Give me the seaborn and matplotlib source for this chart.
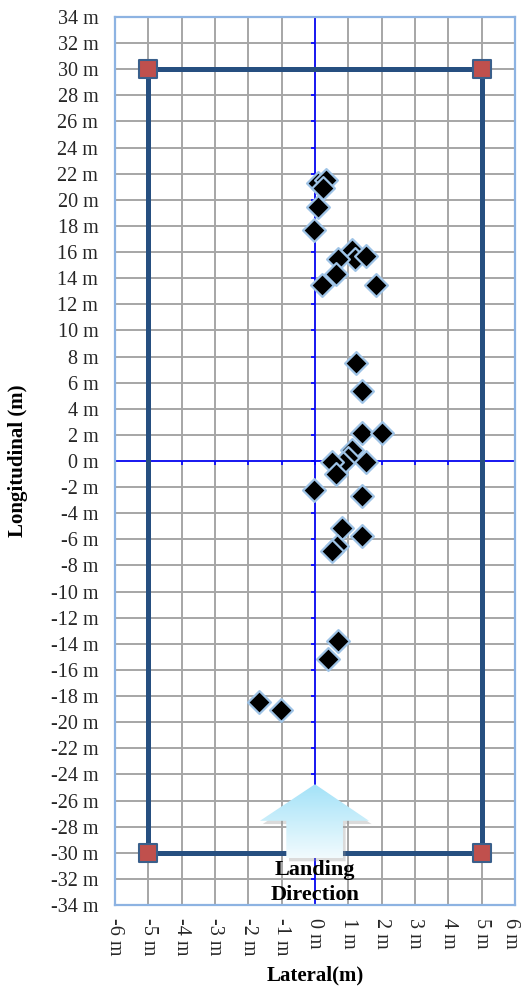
import numpy as np
import pandas as pd
import matplotlib
matplotlib.use("Agg")
import matplotlib.pyplot as plt
import matplotlib.transforms as mtransforms
from matplotlib.patches import Polygon
from matplotlib.colors import LinearSegmentedColormap
import seaborn as sns

# ---- data ----
lateral = [0.08, 0.32, 0.25, 0.10, -0.02, 1.10, 1.20, 0.70, 1.53, 0.63, 0.20, 1.83,
           1.23, 1.40, 1.40, 2.00, 1.10, 1.00, 0.85, 0.50, 1.53, 0.63, -0.02, 1.40,
           0.80, 1.40, 0.65, 0.50, 0.68, 0.40, -1.68, -1.03]
longitudinal = [21.3, 21.5, 20.9, 19.45, 17.66, 16.15, 15.5, 15.44, 15.7, 14.3, 13.5, 13.5,
                7.47, 5.35, 2.16, 2.16, 0.88, 0.24, -0.14, -0.09, -0.09, -1.03, -2.23, -2.7,
                -5.12, -5.71, -6.53, -6.91, -13.8, -15.16, -18.48, -19.1]
zone_x = [-5, 5, 5, -5, -5]
zone_y = [30, 30, -30, -30, 30]
corner_x = [-5, 5, 5, -5]
corner_y = [30, 30, -30, -30]
x_ticks = list(range(-6, 7))
y_ticks = list(range(-34, 35, 2))
x_labels = [f"{v} m" for v in x_ticks]
y_labels = [f"{v} m" for v in y_ticks]

df = pd.DataFrame({"Lateral": lateral, "Longitudinal": longitudinal})
corners = pd.DataFrame({"x": corner_x, "y": corner_y})

sns.set_theme(style="white")
plt.rcParams["font.family"] = ["Liberation Serif", "DejaVu Serif"]

fig = plt.figure(figsize=(5.22, 9.94), dpi=100)
ax = fig.add_axes([0.2203, 0.0895, 0.7662, 0.8934])
ax.set_xlim(-6, 6)
ax.set_ylim(-34, 34)

ax.set_xticks(x_ticks)
ax.set_yticks(y_ticks)
ax.set_xticklabels(x_labels, rotation=-90, fontsize=14.5)
ax.set_yticklabels(y_labels, fontsize=14.5)
ax.tick_params(axis="both", length=0)
ax.tick_params(axis="y", pad=12)
ax.tick_params(axis="x", pad=9)
ax.grid(True, color="#a6a6a6", lw=1.4, zorder=0)
ax.set_axisbelow(True)
for s in ax.spines.values():
    s.set_color("#8db3e2")
    s.set_linewidth(1.6)
    s.set_visible(True)

# nudge the last x tick label so it stays inside the figure
last = ax.get_xticklabels()[-1]
last.set_transform(last.get_transform() + mtransforms.ScaledTranslation(-4 / 100, 0, fig.dpi_scale_trans))

# crossing axes through origin
ax.axvline(0, color="#0000ff", lw=1.2, zorder=1)
ax.axhline(0, color="#0000ff", lw=1.2, zorder=1)
ax.plot([0] * len(y_ticks), y_ticks, ls="none", marker=0, ms=3, mew=1.2, color="#0000ff", zorder=1)
ax.plot(x_ticks, [0] * len(x_ticks), ls="none", marker=3, ms=3, mew=1.2, color="#0000ff", zorder=1)

# landing zone rectangle
sns.lineplot(x=zone_x, y=zone_y, sort=False, estimator=None, color="#264f80", lw=3.6, ax=ax, zorder=2)

# landing direction arrow (gradient)
arrow_pts = [(0, -24.75), (1.62, -27.55), (0.84, -27.55), (0.84, -30.4),
             (-0.86, -30.4), (-0.86, -27.55), (-1.65, -27.55)]
shadow = Polygon([(x + 0.08, y - 0.25) for x, y in arrow_pts], closed=True,
                 facecolor="#9a9a9a", edgecolor="none", alpha=0.35, zorder=3)
ax.add_patch(shadow)
poly = Polygon(arrow_pts, closed=True, facecolor="none", edgecolor="none", zorder=4)
ax.add_patch(poly)
grad = np.linspace(0, 1, 256).reshape(-1, 1)
cmap = LinearSegmentedColormap.from_list("arr", ["#a3e2f8", "#f2fbfe"])
im = ax.imshow(grad, extent=[-1.65, 1.62, -30.4, -24.75], origin="upper",
               cmap=cmap, aspect="auto", zorder=4)
im.set_clip_path(poly)

# corners
sns.scatterplot(data=corners, x="x", y="y", marker="s", s=165, color="#c0504d",
                edgecolor="#3a5f8b", linewidth=1.5, ax=ax, zorder=5)

# landing points
sns.scatterplot(data=df, x="Lateral", y="Longitudinal", marker="D", s=135, color="black",
                edgecolor="#9ec3e6", linewidth=1.6, ax=ax, zorder=6)

ax.text(0, -31.3, "Landing", ha="center", va="center", fontsize=16, fontweight="bold",
        color="black", zorder=7)
ax.text(0, -33.2, "Direction", ha="center", va="center", fontsize=16, fontweight="bold",
        color="black", zorder=7)

ax.set_xlim(-6, 6)
ax.set_ylim(-34, 34)
ax.set_xlabel("Lateral(m)", fontsize=15, fontweight="bold", color="black")
ax.set_ylabel("Longitudinal (m)", fontsize=15, fontweight="bold", color="black")
ax.xaxis.label.set_va("center")
ax.yaxis.label.set_va("center")
ax.xaxis.set_label_coords(0.5, -0.0788)
ax.yaxis.set_label_coords(-0.242, 0.5)

fig.savefig("out.png", dpi=100)
